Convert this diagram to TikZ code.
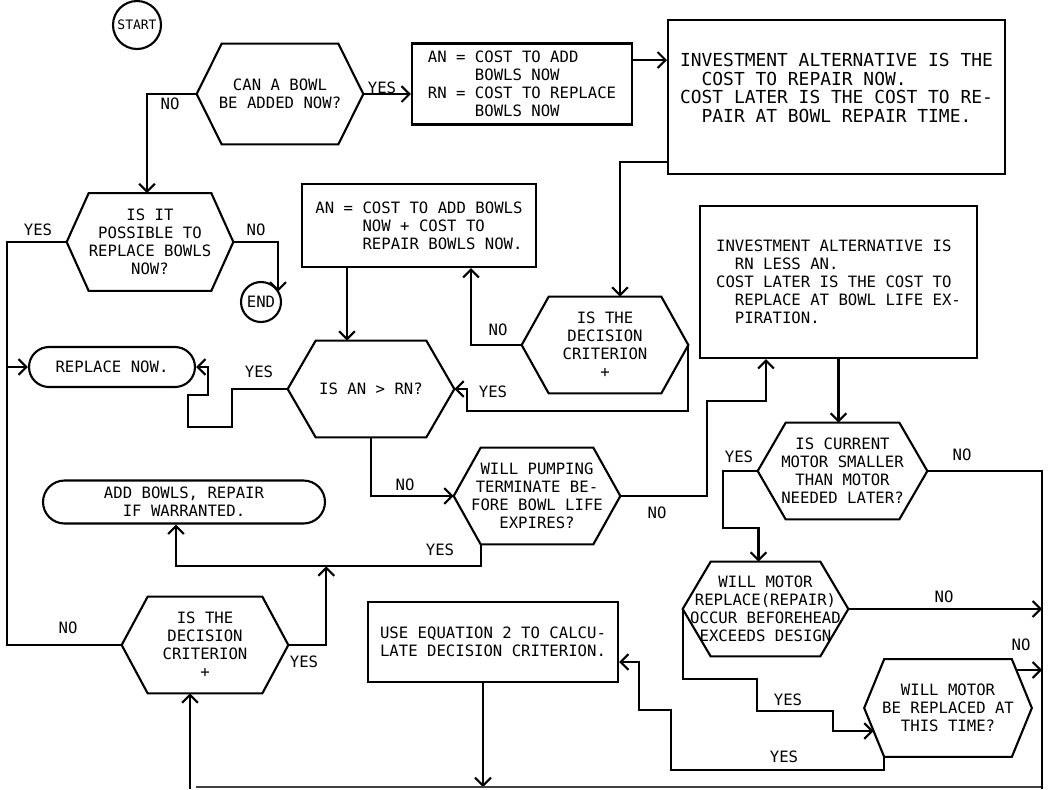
\documentclass[tikz,border=0pt]{standalone}
\usepackage{fontspec}
\setmainfont{DejaVu Sans Mono}
\usetikzlibrary{positioning,calc,shapes.misc,arrows.meta}

\tikzset{
  every node/.style={font=\fontsize{8.9}{10.3}\selectfont},
  flow/.style={line width=1.2pt, -{Straight Barb[length=4.5pt,width=9pt]}},
  plain/.style={line width=1.2pt},
  decision/.style={rectangle, minimum width=3.32cm, minimum height=1.92cm, inner sep=0pt, align=center},
  stepbox/.style={rectangle, draw, line width=1.2pt, inner sep=0pt, align=left},
  terminal/.style={rounded rectangle, draw, line width=1.2pt, minimum height=0.8cm, inner sep=0pt, align=center},
  ends/.style={circle, draw, line width=1.2pt, inner sep=0pt},
  answer/.style={inner sep=0pt}
}

\begin{document}
\begin{tikzpicture}[x=0.02cm, y=-0.02cm]
  \useasboundingbox (0,0) rectangle (1050,789);

  % boxes
  \node[ends, minimum size=0.96cm, font=\fontsize{7.4}{8}\selectfont] (start) at (137,25) {START};
  \node[decision, minimum height=2cm] (hex1) at (280,94) {CAN A BOWL\\BE ADDED NOW?};
  \node[stepbox, minimum width=4.4cm, minimum height=1.62cm] (an1) at (522,84)
    {AN = COST TO ADD\\\phantom{AN = }BOWLS NOW\\RN = COST TO REPLACE\\\phantom{RN = }BOWLS NOW};
  \node[stepbox, minimum width=6.74cm, minimum height=3.08cm, font=\fontsize{10.2}{10.5}\selectfont] (inv1) at (836.5,97)
    {INVESTMENT ALTERNATIVE IS THE\\\phantom{XX}COST TO REPAIR NOW.\\COST LATER IS THE COST TO RE-\\\phantom{XX}PAIR AT BOWL REPAIR TIME.\\\mbox{}};
  \node[decision, minimum height=1.94cm] (hex2) at (150,242) {IS IT\\POSSIBLE TO\\REPLACE BOWLS\\NOW?};
  \node[stepbox, minimum width=4.68cm, minimum height=1.66cm] (an2) at (419,225.5)
    {AN = COST TO ADD BOWLS\\\phantom{AN = }NOW + COST TO\\\phantom{AN = }REPAIR BOWLS NOW.};
  \node[ends, minimum size=0.8cm] (end) at (261,302) {END};
  \node[decision] (crit1) at (605,345) {IS THE\\DECISION\\CRITERION\\+};
  \node[stepbox, minimum width=5.54cm, minimum height=3.04cm] (inv2) at (838.5,282)
    {INVESTMENT ALTERNATIVE IS\\\phantom{XX}RN LESS AN.\\COST LATER IS THE COST TO\\\phantom{XX}REPLACE AT BOWL LIFE EX-\\\phantom{XX}PIRATION.};
  \node[terminal, minimum width=3.32cm] (replace) at (112,367) {REPLACE NOW.};
  \node[decision] (anrn) at (371,389) {IS AN > RN?};
  \node[decision] (pump) at (537,496) {WILL PUMPING\\TERMINATE BE-\\FORE BOWL LIFE\\EXPIRES?};
  \node[decision, minimum width=3.38cm] (curr) at (842.5,471) {IS CURRENT\\MOTOR SMALLER\\THAN MOTOR\\NEEDED LATER?};
  \node[terminal, minimum width=5.64cm, minimum height=0.86cm] (addb) at (184,502) {ADD BOWLS, REPAIR\\IF WARRANTED.};
  \node[decision] (crit2) at (205,645) {IS THE\\DECISION\\CRITERION\\+};
  \node[stepbox, minimum width=5cm, minimum height=1.6cm] (useq) at (493,642)
    {USE EQUATION 2 TO CALCU-\\LATE DECISION CRITERION.};
  \node[decision, minimum width=3.3cm, minimum height=1.88cm] (mot1) at (765.5,609)
    {WILL MOTOR\\REPLACE(REPAIR)\\OCCUR BEFOREHEAD\\EXCEEDS DESIGN};
  \node[decision, minimum width=3.34cm, minimum height=1.94cm] (mot2) at (948,708)
    {WILL MOTOR\\BE REPLACED AT\\THIS TIME?};

  % hexagon outlines
  \foreach \n/\s in {hex1/0.5, hex2/0.44, crit1/0.54, anrn/0.56, pump/0.54,
                      curr/0.56, crit2/0.52, mot1/0.56, mot2/0.4}
    \draw[plain] (\n.west) -- ([xshift=\s cm]\n.north west) -- ([xshift=-\s cm]\n.north east)
      -- (\n.east) -- ([xshift=-\s cm]\n.south east) -- ([xshift=\s cm]\n.south west) -- cycle;

  % yes / no
  \node[answer] (y1) at (382,88) {YES};
  \node[answer] (n1) at (170,104) {NO};
  \node[answer] (y2) at (38,230) {YES};
  \node[answer] (n2) at (256,230) {NO};
  \node[answer] (y3) at (259,372) {YES};
  \node[answer] (n3) at (498,330) {NO};
  \node[answer] (y4) at (493,392) {YES};
  \node[answer] (n4) at (405,485) {NO};
  \node[answer] (n5) at (657,513) {NO};
  \node[answer] (y5) at (440,550) {YES};
  \node[answer] (y6) at (739,457) {YES};
  \node[answer] (n6) at (962,455) {NO};
  \node[answer] (n7) at (944,597) {NO};
  \node[answer] (n8) at (1021,645) {NO};
  \node[answer] (y7) at (788,700) {YES};
  \node[answer] (y8) at (784,757) {YES};
  \node[answer] (n9) at (68,628) {NO};
  \node[answer] (y9) at (304,662) {YES};

  % junctions
  \coordinate (j1) at ($(an1.east)+(0,-24)$);
  \coordinate (j2) at ($(inv1.south west)+(0,-13)$);
  \coordinate (j3) at ($(crit1.north)+(15,0)$);
  \coordinate (j4) at ($(an2.south west)+(46,0)$);
  \coordinate (j5) at ($(an2.south east)+(-66,0)$);
  \coordinate (j6) at ($(inv2.south west)+(67,0)$);
  \coordinate (j7) at ($(pump.south west)+(27,0)$);
  \coordinate (j7b) at ($(j7)+(0,22)$);
  \coordinate (j8) at ($(addb.south)+(-8,0)$);
  \coordinate (j9) at ($(mot1.north)+(-7,0)$);
  \coordinate (j10) at ($(mot2.west)+(9.5,23)$);
  \coordinate (j11) at ($(mot2.east)+(-15.7,-38)$);
  \coordinate (j12) at ($(mot2.south west)+(20,0)$);
  \coordinate (j13) at ($(useq.east)+(0,20)$);
  \coordinate (j14) at ($(end.center)+(17,-10.5)$);
  \coordinate (j15) at ($(crit2.east)+(38,0)$);
  \coordinate (loopL) at (190,789);
  \coordinate (loopM) at (483,787);
  \coordinate (loopR) at (1042,789);

  % connectors
  \draw[flow] (hex1.east) -- (hex1.east -| an1.west);
  \draw[flow] (j1) -- (j1 -| inv1.west);
  \draw[flow] (hex1.west) -| ($(hex2.north)+(-3,0)$);
  \draw[flow] (j2) -| (j3);
  \draw[flow] (hex2.west) -- ++(-60,0) |- (replace.west);
  \draw[flow] (hex2.east) -| (j14);
  \draw[flow] (j4) -- (j4 |- anrn.north);
  \draw[flow] (crit1.west) -| (j5);
  \draw[flow] (anrn.west) -- ++(-56,0) -- ++(0,38) -- ++(-44,0) -- ++(0,-32) -- ++(20,0) |- (replace.east);
  \draw[flow] (crit1.east) -- ++(0,66) -| ($(anrn.east)+(13,0)$) -- (anrn.east);
  \draw[flow] (anrn.south) |- (pump.west);
  \draw[flow] (pump.east) -- ++(87,0) -- ++(0,-95) -| (j6);
  \draw[flow] (inv2.south) -- (inv2.south |- curr.north);
  \draw[flow] (j7) -- (j7b) -| (j8);
  \draw[plain] (crit2.west) -| ($(hex2.west)+(-60,0)$);
  \draw[flow] (crit2.east) -- (j15) -- (j15 |- j7b);
  \draw[flow] (loopL) -- (loopL |- crit2.south);
  \draw[flow] (useq.south -| loopM) -- (loopM);
  \draw[line width=0.7pt, black!75] ($(loopL)+(6,-2)$) -- ($(loopR)+(0,-2)$);
  \draw[plain] (curr.east) -| (loopR);
  \draw[flow] (curr.west) -- ++(-35,0) -- ++(0,57) -| (j9);
  \draw[flow] (mot1.east) -- (mot1.east -| loopR);
  \draw[flow] (mot1.west) -- ++(0,70) -- ++(74,0) -- ++(0,32) -- ++(76,0) |- (j10);
  \draw[flow] (j11) -- (j11 -| loopR);
  \draw[flow] (j12) -- ++(0,13) -- ++(-213,0) -- ++(0,-60) -- ++(-32,0) |- (j13);
\end{tikzpicture}
\end{document}
